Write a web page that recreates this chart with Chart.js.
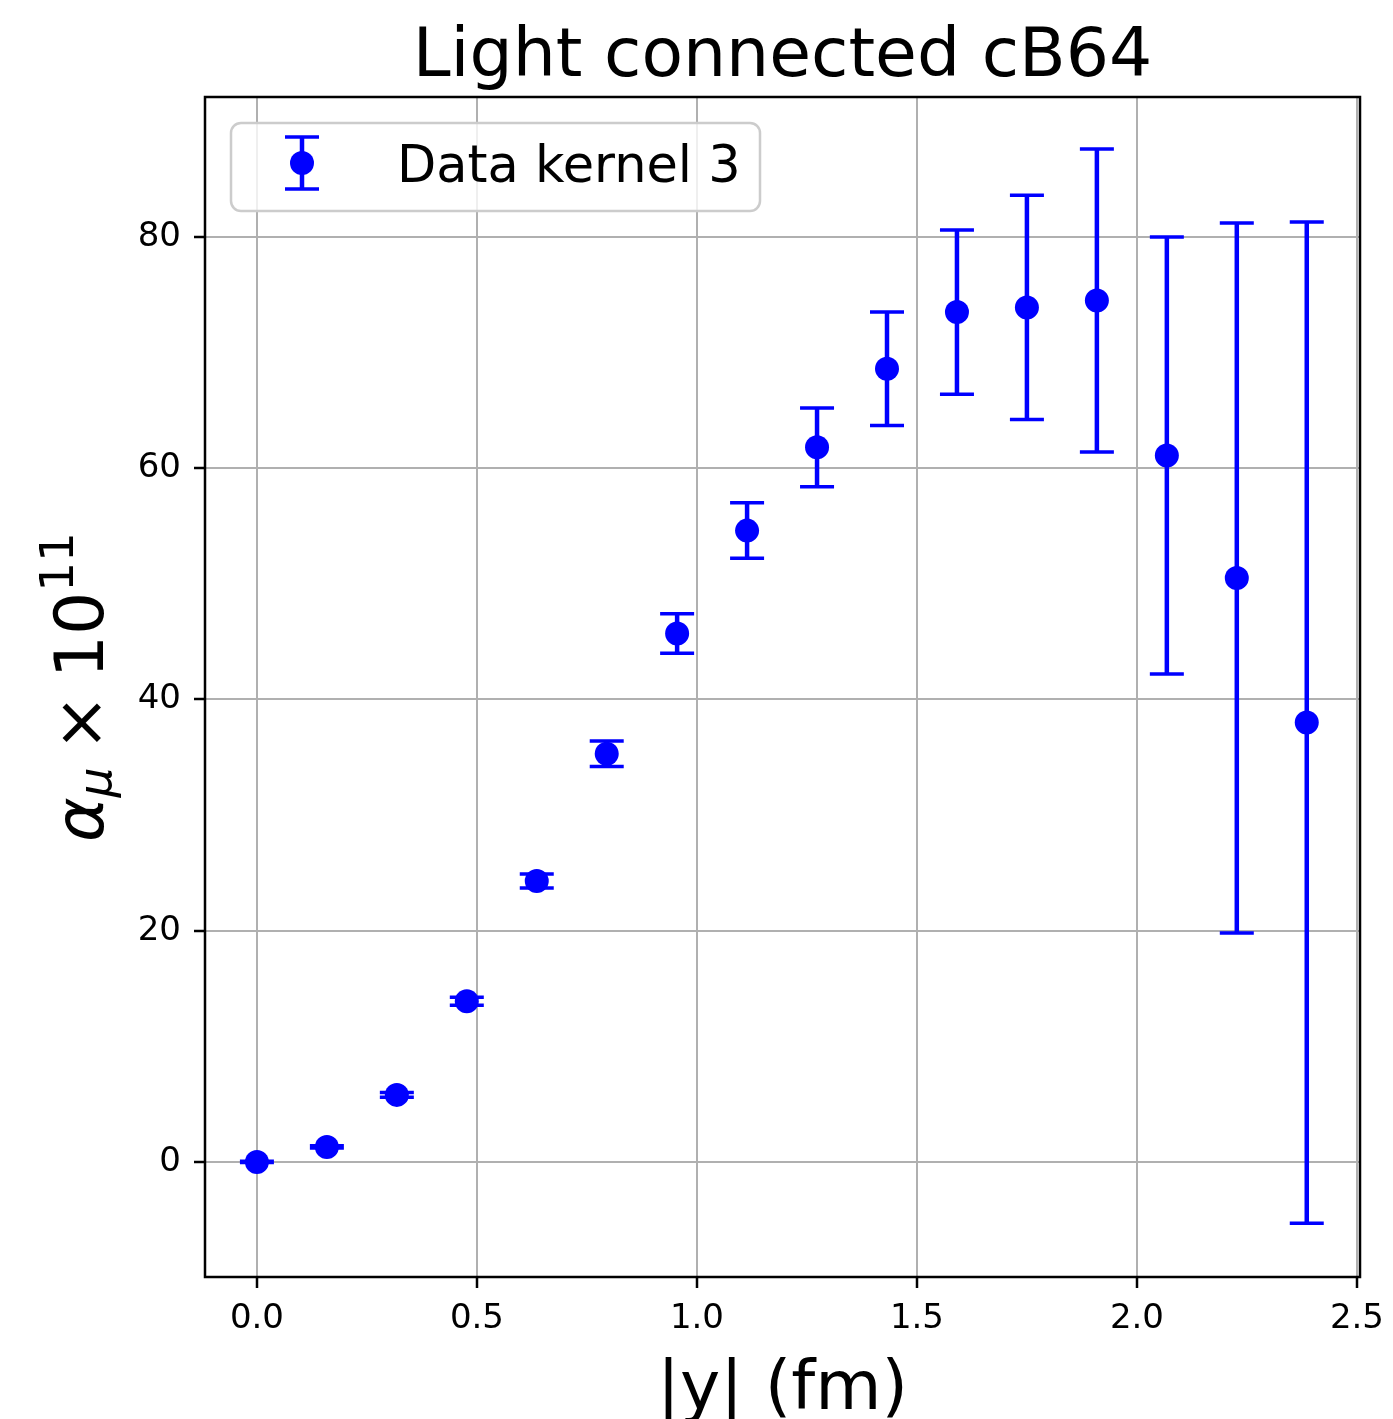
<!doctype html>
<html lang="en">
<head>
    <title>Light connected cB64</title>
    <meta charset="UTF-8">
    <style>
        body { margin: 0; background: #fff; }
        #chart { display: block; }
    </style>
</head>
<body>
    <canvas id="chart" width="1393" height="1419"></canvas>
</body>
<script src="https://cdn.jsdelivr.net/npm/chart.js@4.4.0/dist/chart.umd.min.js"></script>
<script>

    // data
    let xValues = [0.000, 0.159, 0.318, 0.477, 0.636, 0.795, 0.955, 1.114, 1.273, 1.432, 1.591, 1.750, 1.909, 2.068, 2.227, 2.386]
    let yValues = [0.0, 1.3, 5.8, 13.9, 24.3, 35.3, 45.7, 54.6, 61.8, 68.6, 73.5, 73.9, 74.5, 61.1, 50.5, 38.0]
    let yErrors = [0.05, 0.1, 0.2, 0.35, 0.6, 1.1, 1.7, 2.4, 3.4, 4.9, 7.1, 9.7, 13.1, 18.9, 30.7, 43.3]
    let xTicks = [0.0, 0.5, 1.0, 1.5, 2.0, 2.5]
    let yTicks = [0, 20, 40, 60, 80]

    let titleText = 'Light connected cB64'
    let xLabel = '|y| (fm)'
    let seriesLabel = 'Data kernel 3'

    let blue = '#0000ff'
    let font = "'DejaVu Sans', 'Liberation Sans', sans-serif"
    let capHalf = 17

    function drawErrorBar(ctx, px, top, bot) {
        ctx.lineWidth = 4.5
        ctx.beginPath()
        ctx.moveTo(px, top)
        ctx.lineTo(px, bot)
        ctx.stroke()
        ctx.lineWidth = 3.5
        ctx.beginPath()
        ctx.moveTo(px - capHalf, top)
        ctx.lineTo(px + capHalf, top)
        ctx.moveTo(px - capHalf, bot)
        ctx.lineTo(px + capHalf, bot)
        ctx.stroke()
    }

    let errorBars = {
        id: 'errorBars',
        beforeDatasetsDraw(chart) {
            let ctx = chart.ctx
            let x = chart.scales.x
            let y = chart.scales.y
            ctx.save()
            ctx.strokeStyle = blue
            xValues.forEach((v, i) => {
                let px = x.getPixelForValue(v)
                let top = y.getPixelForValue(yValues[i] + yErrors[i])
                let bot = y.getPixelForValue(yValues[i] - yErrors[i])
                drawErrorBar(ctx, px, top, bot)
            })
            ctx.restore()
        }
    }

    let frameAndText = {
        id: 'frameAndText',
        afterDatasetsDraw(chart) {
            let ctx = chart.ctx
            let a = chart.chartArea
            let cx = (a.left + a.right) / 2
            ctx.save()

            // axes box
            ctx.strokeStyle = '#000'
            ctx.lineWidth = 2.5
            ctx.strokeRect(a.left, a.top, a.right - a.left, a.bottom - a.top)

            // title
            ctx.fillStyle = '#000'
            ctx.textAlign = 'center'
            ctx.textBaseline = 'alphabetic'
            ctx.font = '68px ' + font
            ctx.fillText(titleText, cx, 76)

            // x label
            ctx.fillText(xLabel, cx, 1409)

            // y label: alpha_mu x 10^11
            let parts = [
                { t: 'α', f: 'italic 68px ' + font, dy: 0, gap: 0 },
                { t: 'μ', f: 'italic 47px ' + font, dy: 8, gap: 0 },
                { t: '×', f: '68px ' + font, dy: 0, gap: 16 },
                { t: '10', f: '68px ' + font, dy: 0, gap: 16 },
                { t: '11', f: '47px ' + font, dy: -30, gap: 0 }
            ]
            let total = 0
            parts.forEach(p => { ctx.font = p.f; p.w = ctx.measureText(p.t).width; total += p.w + p.gap })
            ctx.translate(103, (a.top + a.bottom) / 2)
            ctx.rotate(-Math.PI / 2)
            ctx.textAlign = 'left'
            let pos = -total / 2
            parts.forEach(p => {
                ctx.font = p.f
                pos += p.gap
                ctx.fillText(p.t, pos, p.dy)
                pos += p.w
            })
            ctx.restore()

            // legend
            ctx.save()
            let lx = 231, ly = 123, lw = 529, lh = 88
            ctx.beginPath()
            ctx.roundRect(lx, ly, lw, lh, 10)
            ctx.fillStyle = 'rgba(255,255,255,0.8)'
            ctx.fill()
            ctx.strokeStyle = '#cccccc'
            ctx.lineWidth = 2.5
            ctx.stroke()
            ctx.strokeStyle = blue
            drawErrorBar(ctx, 302, 137, 189)
            ctx.fillStyle = blue
            ctx.beginPath()
            ctx.arc(302, 163, 12, 0, Math.PI * 2)
            ctx.fill()
            ctx.fillStyle = '#000'
            ctx.font = '51px ' + font
            ctx.textBaseline = 'alphabetic'
            ctx.fillText(seriesLabel, 397, 182)
            ctx.restore()
        }
    }

    let points = xValues.map((v, i) => ({ x: v, y: yValues[i] }))

    let config = {
        type: 'scatter',
        data: {
            datasets: [{
                label: seriesLabel,
                data: points,
                pointRadius: 12,
                pointHoverRadius: 12,
                pointBackgroundColor: blue,
                pointBorderWidth: 0,
                showLine: false
            }]
        },
        options: {
            responsive: false,
            animation: false,
            events: [],
            layout: {
                padding: { left: 0, top: 97, right: 33, bottom: 0 }
            },
            plugins: {
                legend: { display: false },
                title: { display: false },
                tooltip: { enabled: false }
            },
            scales: {
                x: {
                    type: 'linear',
                    min: -0.118,
                    max: 2.507,
                    afterBuildTicks: s => { s.ticks = xTicks.map(v => ({ value: v })) },
                    afterFit: s => {
                        s.height = 142
                        s.paddingLeft = 0
                        s.paddingRight = 0
                    },
                    ticks: {
                        callback: v => v.toFixed(1),
                        font: { family: font, size: 34 },
                        color: '#000',
                        padding: 11,
                        maxRotation: 0,
                        autoSkip: false
                    },
                    grid: {
                        color: '#b0b0b0',
                        lineWidth: 2,
                        tickColor: '#000',
                        tickWidth: 2.5,
                        tickLength: 11
                    },
                    border: { display: false }
                },
                y: {
                    type: 'linear',
                    min: -9.95,
                    max: 92.1,
                    afterBuildTicks: s => { s.ticks = yTicks.map(v => ({ value: v })) },
                    afterFit: s => {
                        s.width = 205
                        s.paddingTop = 0
                        s.paddingBottom = 0
                    },
                    ticks: {
                        callback: v => String(v),
                        font: { family: font, size: 34 },
                        color: '#000',
                        padding: 13,
                        autoSkip: false
                    },
                    grid: {
                        color: '#b0b0b0',
                        lineWidth: 2,
                        tickColor: '#000',
                        tickWidth: 2.5,
                        tickLength: 11
                    },
                    border: { display: false }
                }
            }
        },
        plugins: [errorBars, frameAndText]
    }

    let myChart = new Chart(document.getElementById('chart'), config)

</script>
</html>
